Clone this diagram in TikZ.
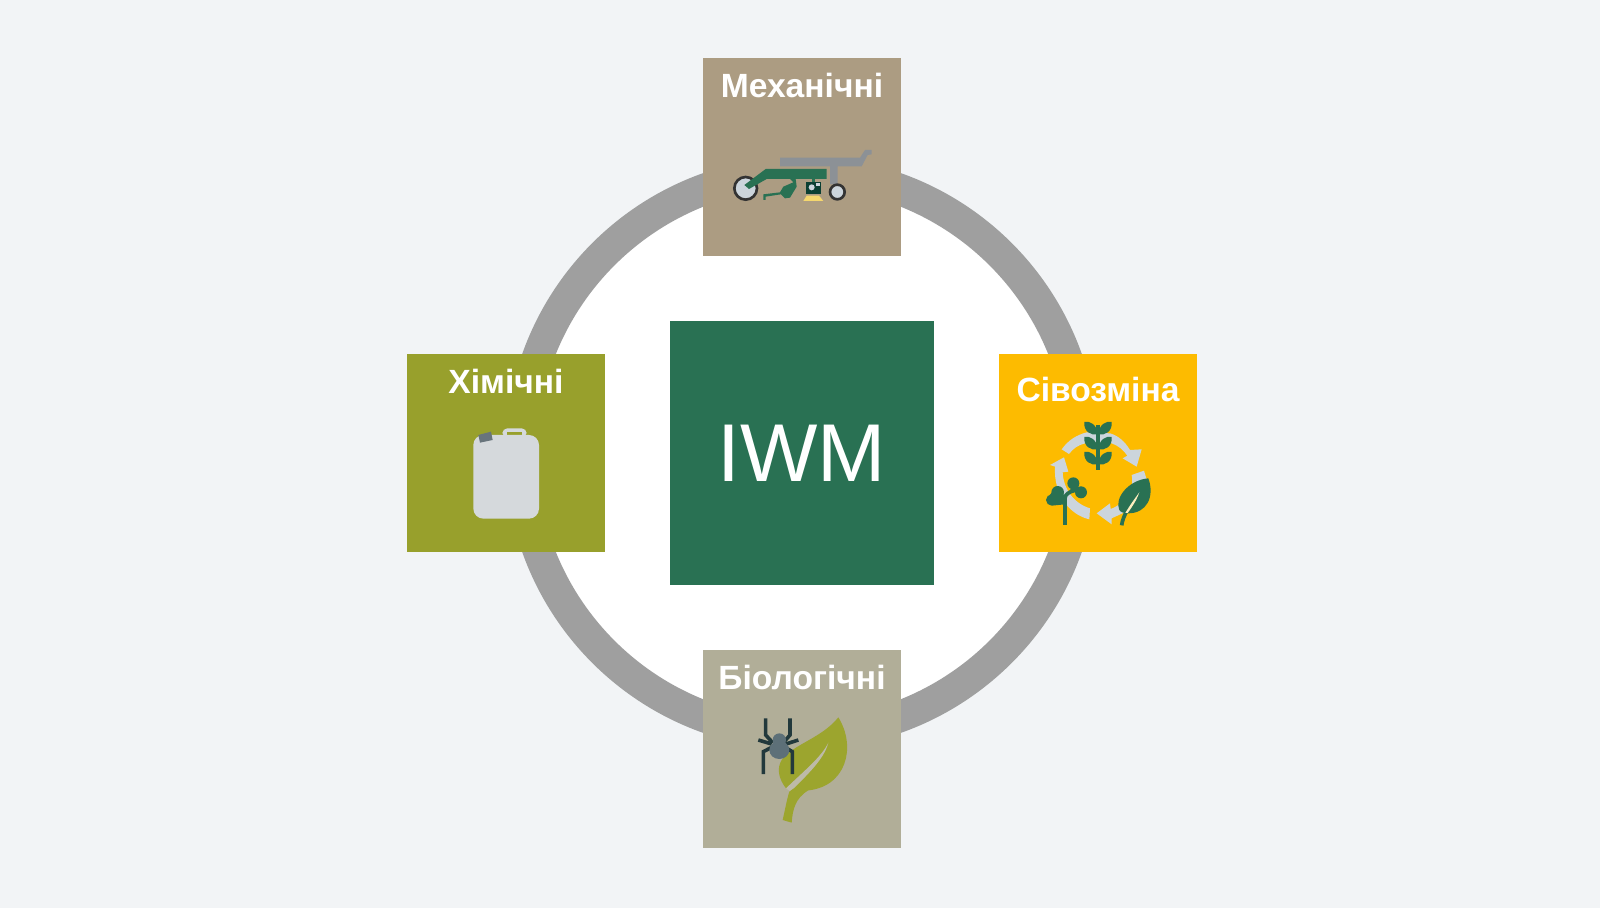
\documentclass[tikz,border=0pt]{standalone}
\usepackage{fontspec}
\setmainfont{Liberation Sans}
\usetikzlibrary{positioning}

\definecolor{pagebg}{HTML}{F2F4F6}
\definecolor{ringgrey}{HTML}{9F9F9F}
\definecolor{hubgreen}{HTML}{297153}
\definecolor{mechtan}{HTML}{AC9C82}
\definecolor{chemolive}{HTML}{98A02C}
\definecolor{rotamber}{HTML}{FDBB00}
\definecolor{biosage}{HTML}{B1AE98}
\definecolor{iconlight}{HTML}{CCD5DC}
\definecolor{icongrey}{HTML}{8C9196}
\definecolor{icondark}{HTML}{22393C}
\definecolor{canlight}{HTML}{D5D9DC}
\definecolor{capgrey}{HTML}{68747C}
\definecolor{spidergrey}{HTML}{5D7078}
\definecolor{leafolive}{HTML}{9CA52E}
\definecolor{camgreen}{HTML}{0B3F33}
\definecolor{shareyellow}{HTML}{F5D76E}

\tikzset{
  hubbox/.style={fill=hubgreen,text=white,minimum size=132pt,inner sep=0pt,outer sep=0pt,font=\fontsize{41}{41}\selectfont},
  catbox/.style={minimum size=99pt,inner sep=0pt,outer sep=0pt},
  cattag/.style={text=white,inner sep=0pt,font=\fontsize{16.8}{16.8}\selectfont\bfseries},
  wheel/.style={draw=black!80,line width=1.33pt,fill=iconlight},
  spiderleg/.style={icondark,line width=1.8pt}
}

\begin{document}
\begin{tikzpicture}[x=0.5pt,y=-0.5pt,node distance=32.5pt]
\fill[pagebg] (0,0) rectangle (1600,908);
\useasboundingbox (0,0) rectangle (1600,908);
% Ring behind everything
\coordinate (mid) at (802,453);
\draw[ringgrey,line width=15.75pt,fill=white] (mid) circle (281);
% Centre and the four boxes
\node[hubbox] (hub) at (mid) {IWM};
\node[catbox,fill=mechtan,above=of hub] (mech) {};
\node[catbox,fill=rotamber,right=of hub] (rot) {};
\node[catbox,fill=biosage,below=of hub] (bio) {};
\node[catbox,fill=chemolive,left=of hub] (chem) {};
% Box titles
\node[cattag,yshift=-13.5pt] (mechtag) at (mech.north) {Механічні};
\node[cattag,yshift=-17.5pt] (rottag) at (rot.north) {Сівозміна};
\node[cattag,yshift=-13.5pt] (biotag) at (bio.north) {Біологічні};
\node[cattag,yshift=-13.5pt] (chemtag) at (chem.north) {Хімічні};

% Plough
\begin{scope}[shift={(725,145)},scale=1/3]
\fill[icongrey] (165,38) -- (405,38) -- (420,15) -- (440,15) -- (440,28) -- (428,30) -- (410,64) -- (338,64) -- (338,118) -- (315,118) -- (315,64) -- (165,64) -- cycle;
\draw[wheel] (337,141) circle (22);
\draw[wheel] (62,130) circle (34);
\fill[hubgreen] (122,72) -- (305,72) -- (305,102) -- (125,102) -- (72,132) -- (58,120) -- cycle;
\fill[hubgreen] (115,148) -- (165,142) -- (175,125) -- (205,112) -- (195,102) -- (212,102) -- (215,125) -- (195,158) -- (180,160) -- (168,148) -- (122,155) -- (122,165) -- (115,165) -- cycle;
\fill[hubgreen] (260,100) rectangle (270,112);
\fill[camgreen] (243,112) rectangle (287,148);
\fill[iconlight] (260,127) circle (9);
\fill[iconlight] (272,114) rectangle (284,122);
\fill[shareyellow] (245,152) -- (282,152) -- (295,168) -- (235,168) -- cycle;
\end{scope}

% Crop rotation
\begin{scope}[shift={(1040,415)},scale=1/3]
\fill[iconlight] (65,103) .. controls (85,75) and (110,60) .. (140,52) -- (210,55) .. controls (235,62) and (255,80) .. (270,105) -- (305,103) -- (290,155) -- (248,130) -- (262,122) .. controls (250,105) and (235,92) .. (215,85) -- (135,85) .. controls (115,90) and (100,100) .. (87,117) -- cycle;
\fill[iconlight] (275,180) -- (312,167) -- (325,210) -- (280,280) -- (215,310) -- (215,328) -- (170,295) -- (210,265) -- (212,282) .. controls (245,270) and (285,235) .. (275,180) -- cycle;
\fill[iconlight] (72,127) -- (85,170) -- (68,172) .. controls (70,220) and (100,265) .. (150,280) -- (148,313) .. controls (90,300) and (40,240) .. (45,155) -- (30,150) -- cycle;
% wheat
\draw[hubgreen,line width=1.67pt] (174,30) -- (174,165);
\foreach \dy in {0,45,90}{
  \foreach \s in {-1,1}{
    \fill[hubgreen] ({174+\s*2},{58+\dy}) .. controls ({174+\s*20},{62+\dy}) and ({174+\s*44},{50+\dy}) .. ({174+\s*41},{21+\dy}) .. controls ({174+\s*25},{17+\dy}) and ({174+\s*2},{28+\dy}) .. ({174+\s*2},{58+\dy}) -- cycle;
  }
}
% sprout
\draw[hubgreen,line width=1.85pt] (75,330) -- (75,250) .. controls (75,238) and (88,230) .. (105,226);
\fill[hubgreen] (100,205) circle (18) (123,232) circle (18) (100,205) -- (123,232) -- (88,230) -- cycle;
\fill[hubgreen] (53,232) circle (19) (35,255) circle (17) (53,213) -- (72,240) -- (75,268) -- (35,272) -- (20,250) -- cycle;
% leaf
\draw[hubgreen,line width=1.85pt] (245,331) .. controls (247,315) and (252,305) .. (260,288);
\fill[hubgreen] (325,190) .. controls (345,245) and (320,295) .. (265,295) .. controls (250,295) and (240,290) .. (238,285) .. controls (222,250) and (265,195) .. (325,190) -- cycle;
\fill[rotamber!25!white] (256,294) .. controls (270,270) and (285,250) .. (298,232) .. controls (290,255) and (277,275) .. (263,294) -- cycle;
\end{scope}

% Spider on a leaf
\begin{scope}[shift={(750,710)},scale=1/3]
\fill[leafolive] (265,22) .. controls (320,110) and (290,235) .. (165,242) -- (135,242) -- (108,235) .. controls (85,205) and (80,175) .. (95,150) .. controls (125,105) and (215,85) .. (265,22) -- cycle;
\fill[biosage!85!white] (235,98) .. controls (215,140) and (165,180) .. (108,235) -- (122,245) .. controls (165,200) and (222,150) .. (235,98) -- cycle;
\fill[leafolive] (118,245) .. controls (110,270) and (105,300) .. (98,330) -- (125,338) .. controls (128,300) and (135,265) .. (175,241) -- (130,236) -- cycle;
\draw[spiderleg] (47,25) -- (47,75) -- (68,98);
\draw[spiderleg] (120,25) -- (120,75) -- (100,98);
\draw[spiderleg] (25,90) -- (65,102);
\draw[spiderleg] (145,90) -- (108,102);
\draw[spiderleg] (40,192) -- (40,125) -- (65,112);
\draw[spiderleg] (127,192) -- (127,125) -- (105,112);
\fill[spidergrey] (88,90) circle (20);
\fill[spidergrey] (88,120) ellipse (30 and 27);
\end{scope}

% Canister
\begin{scope}[shift={(405,350)},scale=1/3]
\fill[canlight,rounded corners=2.5pt] (292,262) -- (292,235) -- (365,235) -- (365,262) -- cycle;
\fill[chemolive] (305,247) rectangle (352,256);
\fill[canlight,rounded corners=5pt] (205,255) rectangle (402,506);
\fill[capgrey] (220,255) -- (258,245) -- (263,270) -- (225,278) -- cycle;
\end{scope}
\end{tikzpicture}
\end{document}
